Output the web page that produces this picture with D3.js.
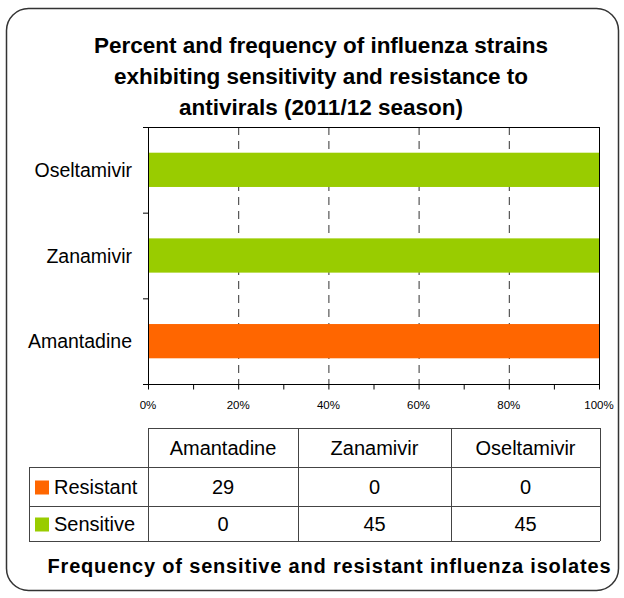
<!DOCTYPE html>
<html>
<head>
<meta charset="utf-8">
<script src="https://cdn.jsdelivr.net/npm/d3@7"></script>
<style>
  body { margin: 0; background: #fff; }
  svg { display: block; font-family: "Liberation Sans", Arial, sans-serif; }
</style>
</head>
<body>
<div id="chart"></div>
<script>
var drugs = ["Amantadine", "Zanamivir", "Oseltamivir"];
var resistant = [29, 0, 0];
var sensitive = [0, 45, 45];
var xTicks = [0, 0.2, 0.4, 0.6, 0.8, 1.0];
var titleLines = ["Percent and frequency of influenza strains",
                  "exhibiting sensitivity and resistance to",
                  "antivirals (2011/12 season)"];
var footer = "Frequency of sensitive and resistant influenza isolates";

var colors = {Resistant: "#ff6600", Sensitive: "#99cc00"};

var W = 624, H = 598;
var svg = d3.select("#chart").append("svg")
    .attr("width", W).attr("height", H);

// outer rounded frame
svg.append("rect")
    .attr("x", 6.5).attr("y", 8.5)
    .attr("width", 612).attr("height", 582)
    .attr("rx", 22).attr("ry", 22)
    .attr("fill", "#fff").attr("stroke", "#333").attr("stroke-width", 1.5);

// title
svg.append("g").selectAll("text")
    .data(titleLines)
  .enter().append("text")
    .attr("x", 321)
    .attr("y", function(d, i) { return 53 + i * 31; })
    .attr("text-anchor", "middle")
    .attr("font-size", "22.5px")
    .attr("font-weight", "bold")
    .text(function(d) { return d; });

// plot area
var plot = {left: 148, right: 599, top: 127, bottom: 384};

var x = d3.scaleLinear().domain([0, 1]).range([plot.left, plot.right]);
var y = d3.scaleBand()
    .domain(drugs.slice().reverse())
    .range([plot.top, plot.bottom])
    .padding(0);

var rows = drugs.map(function(d, i) {
  var tot = resistant[i] + sensitive[i];
  return {drug: d, r: resistant[i] / tot, s: sensitive[i] / tot};
});

// dashed grid
svg.append("g").selectAll("line")
    .data(xTicks.slice(1, -1))
  .enter().append("line")
    .attr("x1", function(d) { return x(d) + 0.5; })
    .attr("x2", function(d) { return x(d) + 0.5; })
    .attr("y1", plot.top).attr("y2", plot.bottom)
    .attr("stroke", "#333").attr("stroke-width", 1)
    .attr("stroke-dasharray", "8,6");

// bars
var bars = svg.append("g");
rows.forEach(function(d) {
  var by = y(d.drug) + y.bandwidth() * 0.3;
  var bh = y.bandwidth() * 0.4;
  bars.append("rect")
      .attr("x", x(0)).attr("y", by)
      .attr("width", x(d.r) - x(0)).attr("height", bh)
      .attr("fill", colors.Resistant);
  bars.append("rect")
      .attr("x", x(d.r)).attr("y", by)
      .attr("width", x(d.r + d.s) - x(d.r)).attr("height", bh)
      .attr("fill", colors.Sensitive);
});

// frame
svg.append("rect")
    .attr("x", plot.left + 0.5).attr("y", plot.top + 0.5)
    .attr("width", plot.right - plot.left).attr("height", plot.bottom - plot.top)
    .attr("fill", "none").attr("stroke", "#000").attr("stroke-width", 1);

// x axis
var xAxis = svg.append("g")
    .attr("transform", "translate(0," + (plot.bottom + 0.5) + ")")
    .call(d3.axisBottom(x).ticks(10).tickSize(5).tickFormat(""));
xAxis.select(".domain").remove();
xAxis.selectAll("line").attr("stroke", "#000");

svg.append("g").selectAll("text")
    .data(xTicks)
  .enter().append("text")
    .attr("x", function(d) { return x(d); })
    .attr("y", plot.bottom + 25)
    .attr("text-anchor", "middle")
    .attr("font-size", "11.5px")
    .text(d3.format(".0%"));

// y axis (category boundaries)
var yEdges = drugs.map(function(d) { return y(d); }).concat([plot.bottom]);
svg.append("g").selectAll("line")
    .data(yEdges)
  .enter().append("line")
    .attr("x1", plot.left - 5).attr("x2", plot.left)
    .attr("y1", function(d) { return d + 0.5; })
    .attr("y2", function(d) { return d + 0.5; })
    .attr("stroke", "#000");

svg.append("g").selectAll("text")
    .data(drugs)
  .enter().append("text")
    .attr("x", plot.left - 16)
    .attr("y", function(d) { return y(d) + y.bandwidth() / 2 + 7; })
    .attr("text-anchor", "end")
    .attr("font-size", "19.5px")
    .text(function(d) { return d; });

// data table
var colX = [29, 148, 298, 451, 600];
var rowY = [428, 467, 506, 541];
var table = svg.append("g").attr("stroke", "#444").attr("stroke-width", 1);

table.append("line").attr("x1", colX[1]).attr("x2", colX[4]).attr("y1", rowY[0] + 0.5).attr("y2", rowY[0] + 0.5);
[1, 2, 3].forEach(function(r) {
  table.append("line").attr("x1", colX[0]).attr("x2", colX[4])
      .attr("y1", rowY[r] + 0.5).attr("y2", rowY[r] + 0.5);
});
table.append("line").attr("x1", colX[0] + 0.5).attr("x2", colX[0] + 0.5).attr("y1", rowY[1]).attr("y2", rowY[3]);
[1, 2, 3, 4].forEach(function(c) {
  table.append("line").attr("x1", colX[c] + 0.5).attr("x2", colX[c] + 0.5)
      .attr("y1", rowY[0]).attr("y2", rowY[3]);
});

var tText = svg.append("g").attr("font-size", "20px");
drugs.forEach(function(d, i) {
  var cx = (colX[i + 1] + colX[i + 2]) / 2;
  tText.append("text").attr("x", cx).attr("y", (rowY[0] + rowY[1]) / 2 + 7)
      .attr("text-anchor", "middle").text(d);
  tText.append("text").attr("x", cx).attr("y", (rowY[1] + rowY[2]) / 2 + 7)
      .attr("text-anchor", "middle").text(resistant[i]);
  tText.append("text").attr("x", cx).attr("y", (rowY[2] + rowY[3]) / 2 + 7)
      .attr("text-anchor", "middle").text(sensitive[i]);
});

var series = ["Resistant", "Sensitive"];
series.forEach(function(s, i) {
  var cy = (rowY[i + 1] + rowY[i + 2]) / 2;
  svg.append("rect").attr("x", 35).attr("y", cy - 6)
      .attr("width", 14).attr("height", 14).attr("fill", colors[s]);
  tText.append("text").attr("x", 54).attr("y", cy + 7).text(s);
});

// footer
svg.append("text")
    .attr("x", 329).attr("y", 573)
    .attr("text-anchor", "middle")
    .attr("font-size", "20px")
    .attr("font-weight", "bold")
    .attr("textLength", 563)
    .attr("lengthAdjust", "spacing")
    .text(footer);
</script>
</body>
</html>
